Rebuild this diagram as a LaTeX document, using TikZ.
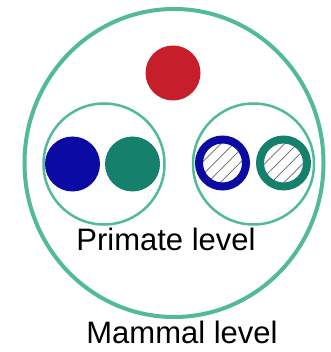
\documentclass[tikz,border=0pt]{standalone}
\usepackage{fontspec}
\setmainfont{Liberation Sans}
\usetikzlibrary{patterns.meta,shapes.geometric}
\definecolor{lvlgreen}{HTML}{52B99A}
\definecolor{dotred}{HTML}{C61E2A}
\definecolor{dotblue}{HTML}{0B0BA3}
\definecolor{dotgreen}{HTML}{15806C}

\begin{document}
\begin{tikzpicture}[
    x=1pt,y=-1pt,
    lvl/.style  = {circle,draw=lvlgreen,line width=2.5pt,inner sep=0pt},
    dot/.style  = {circle,inner sep=0pt,minimum size=55pt},
    ring/.style = {circle,inner sep=0pt,minimum size=47pt,line width=8pt,
                   pattern={Lines[angle=45,distance=9pt,line width=0.7pt]},
                   pattern color=black!60},
    lbl/.style  = {font=\fontsize{31}{37}\selectfont,anchor=base,inner sep=0pt},
  ]
  \useasboundingbox (0,0) rectangle (330,352);

  \node[lvl,ellipse,line width=4pt,minimum width=299pt,minimum height=308pt]
       (mammal) at (174,163) {};
  \node[lvl,minimum size=121pt] (primL) at (104,164) {};
  \node[lvl,minimum size=121pt] (primR) at (253.5,164) {};

  \node[dot,fill=dotred]   (red)   at (173,73)    {};
  \node[dot,fill=dotblue]  (blue)  at (72.5,164)  {};
  \node[dot,fill=dotgreen] (green) at (132.5,164) {};

  \node[ring,draw=dotblue]  (blueR)  at (222.5,163) {};
  \node[ring,draw=dotgreen] (greenR) at (283.5,163) {};

  \node[lbl] (prim) at (166,250) {Primate level};
  \node[lbl] (mam)  at (182,343) {Mammal level};

\end{tikzpicture}
\end{document}
